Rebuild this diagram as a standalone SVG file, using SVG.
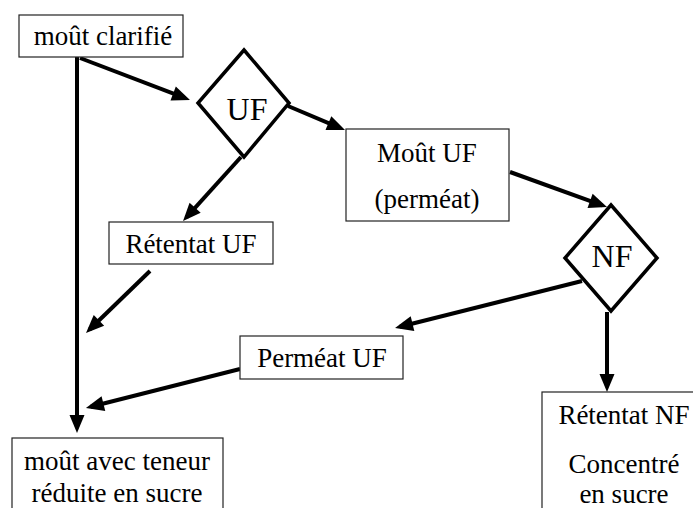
<svg xmlns="http://www.w3.org/2000/svg" width="693" height="508" viewBox="0 0 693 508">
<style>
.box{fill:#fff;stroke:#222;stroke-width:1.2}
.dia{fill:#fff;stroke:#000;stroke-width:3.5;stroke-linejoin:miter}
.t{font-size:27px}
.d{font-size:32px}
.c{stroke:#000;stroke-width:4;fill:none;marker-end:url(#ah)}
</style>
<defs>
<marker id="ah" markerUnits="userSpaceOnUse" markerWidth="18" markerHeight="15" refX="13" refY="7.5" orient="auto" overflow="visible">
<path d="M0,0 L18,7.5 L0,15 z" fill="#000"/>
</marker>
</defs>
<rect width="693" height="508" fill="#fff"/>
<g id="connectors">
<line class="c" x1="77" y1="57" x2="77" y2="428"/>
<line class="c" x1="80" y1="58" x2="185.3" y2="98.2"/>
<line class="c" x1="288" y1="106" x2="340.4" y2="128.1"/>
<line class="c" x1="241" y1="157" x2="186.4" y2="217.3"/>
<line class="c" x1="510" y1="172" x2="602.3" y2="205.3"/>
<line class="c" x1="607" y1="312" x2="607" y2="387"/>
<line class="c" x1="582" y1="281" x2="399.9" y2="326.8"/>
<line class="c" x1="150" y1="271" x2="89.6" y2="329.5"/>
<line class="c" x1="240" y1="369" x2="90.8" y2="406.8"/>
</g>
<g font-family="Liberation Serif, Times New Roman, serif" text-anchor="middle" fill="#000">
<g id="n-mout-clarifie">
<rect class="box" x="19" y="15" width="164" height="42"/>
<text class="t" x="103" y="45">moût clarifié</text>
</g>
<g id="n-uf">
<polygon class="dia" points="244,50 289,103 244,157 198,103"/>
<text class="d" x="247" y="120">UF</text>
</g>
<g id="n-mout-uf">
<rect class="box" x="346" y="129" width="163" height="92"/>
<text class="t" x="427" y="162">Moût UF</text>
<text class="t" x="427" y="208">(perméat)</text>
</g>
<g id="n-retentat-uf">
<rect class="box" x="109" y="222" width="164" height="42"/>
<text class="t" x="191" y="253">Rétentat UF</text>
</g>
<g id="n-nf">
<polygon class="dia" points="611,205 657,258 611,311 565,258"/>
<text class="d" x="612" y="267">NF</text>
</g>
<g id="n-permeat-uf">
<rect class="box" x="240" y="336" width="163" height="43"/>
<text class="t" x="322" y="367">Perméat UF</text>
</g>
<g id="n-mout-reduit">
<rect class="box" x="12" y="438" width="211" height="80"/>
<text class="t" x="117" y="470">moût avec teneur</text>
<text class="t" x="117" y="502">réduite en sucre</text>
</g>
<g id="n-retentat-nf">
<rect class="box" x="542" y="392" width="160" height="130"/>
<text class="t" x="624" y="424">Rétentat NF</text>
<text class="t" x="624" y="473">Concentré</text>
<text class="t" x="624" y="503">en sucre</text>
</g>
</g>
</svg>
